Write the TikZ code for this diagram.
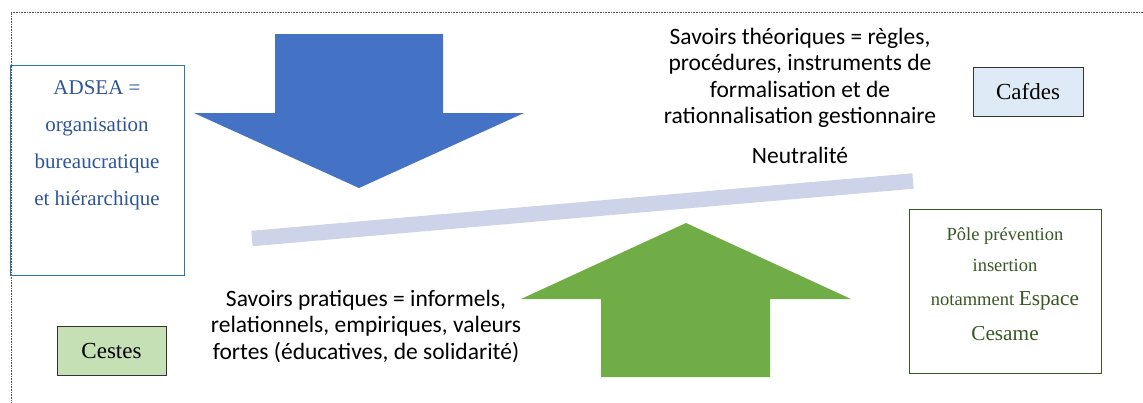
\documentclass[tikz,border=0pt]{standalone}
\usepackage{fontspec}
\setmainfont{Carlito}
\newfontfamily\tnr{Liberation Serif}
\definecolor{arrowblue}{HTML}{4472C4}
\definecolor{arrowgreen}{HTML}{70AD47}
\definecolor{barcol}{HTML}{CDD4EA}
\definecolor{adseaborder}{HTML}{2E75B6}
\definecolor{adseatext}{HTML}{2F5597}
\definecolor{poledark}{HTML}{385723}
\definecolor{cestesfill}{HTML}{C5E0B4}
\definecolor{cafdesfill}{HTML}{DEEBF7}
\definecolor{framegray}{HTML}{595959}
\tikzset{
  smallbox/.style={draw=black!80, line width=0.9pt, minimum width=109pt, minimum height=49pt, inner sep=0pt, font=\tnr\fontsize{23}{27}\selectfont},
  bodytext/.style={align=center, inner sep=0pt, font=\fontsize{23.5}{26.5}\selectfont},
}
\begin{document}
\begin{tikzpicture}[x=1pt,y=-1pt]
\useasboundingbox (0,0) rectangle (1143,402);
% frame
\draw[framegray, dash pattern=on 0.8pt off 0.8pt, line width=0.9pt] (1143,12) -- (11,12) -- (11,402);
% bar
\draw[barcol, line width=15.5pt] (252,238.5) -- (913,181);
% blue arrow (down)
\fill[arrowblue] (275,34) -- (443,34) -- (443,113) -- (524,113) -- (359,188) -- (194,113) -- (275,113) -- cycle;
% green arrow (up)
\fill[arrowgreen] (601,377) -- (770,377) -- (770,299) -- (851,299) -- (686,223) -- (521,299) -- (601,299) -- cycle;
% ADSEA box
\node (adseabox) [draw=adseaborder, line width=0.8pt, minimum width=174pt, minimum height=210pt, inner sep=0pt] at (97,170) {};
\node (adseatext) [align=center, inner sep=0pt, text=adseatext, font=\tnr\fontsize{21}{37}\selectfont] at (97,145) {ADSEA =\\organisation\\bureaucratique\\et hiérarchique};
% Cestes
\node (cestes) [smallbox, fill=cestesfill] at (111.5,350.5) {Cestes};
% Cafdes
\node (cafdes) [smallbox, fill=cafdesfill, minimum width=110pt] at (1028,91.5) {Cafdes};
% Pole box
\node (polebox) [draw=poledark, line width=0.9pt, minimum width=192pt, minimum height=164pt, inner sep=0pt] at (1005,291) {};
\node (poletext) [align=center, inner sep=0pt, text=poledark, font=\tnr\fontsize{18.5}{31}\selectfont] at (1005,284) {Pôle prévention\\insertion\\[3pt]notamment {\fontsize{21.3}{31}\selectfont Espace}\\[4pt]{\fontsize{21.3}{31}\selectfont Cesame}};
% texts
\node (theo) [bodytext] at (800,78) {Savoirs théoriques = règles,\\procédures, instruments de\\formalisation et de\\rationnalisation gestionnaire};
\node (neutre) [bodytext] at (800,155) {Neutralité};
\node (prat) [bodytext] at (366,326) {Savoirs pratiques = informels,\\relationnels, empiriques, valeurs\\fortes (éducatives, de solidarité)};
\end{tikzpicture}
\end{document}
